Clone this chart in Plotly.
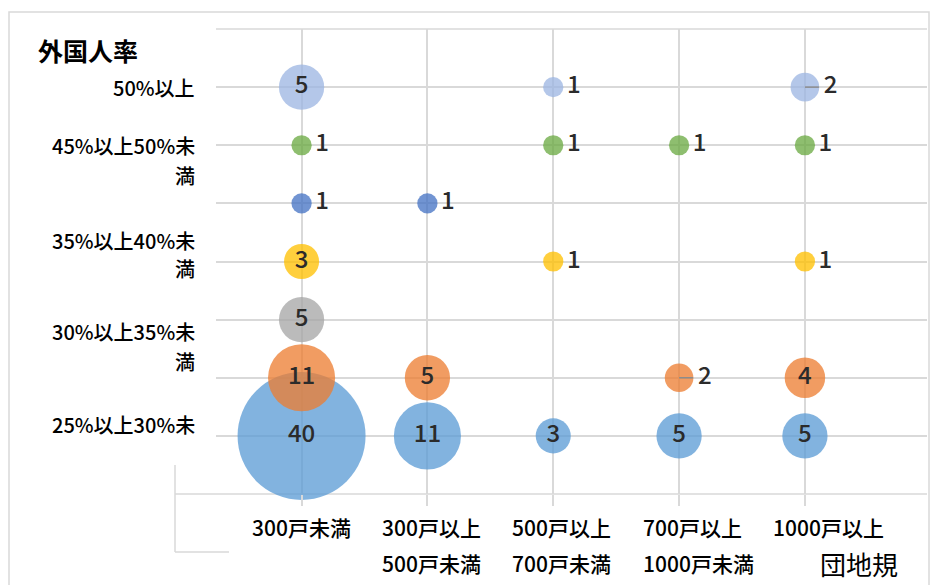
import math
import plotly.graph_objects as go

# 団地規模 (x categories) and 外国人率 rows (y levels, bottom = 1)
size_labels = [
    ["300戸未満"],
    ["300戸以上", "500戸未満"],
    ["500戸以上", "700戸未満"],
    ["700戸以上", "1000戸未満"],
    ["1000戸以上"],
]
x_pos = [1, 2, 3, 4, 5]

# y-axis text lines as they are drawn (text, level of the line)
rate_label_lines = [
    ("50%以上", 7.0),
    ("45%以上50%未", 6.0),
    ("満", 5.48),
    ("35%以上40%未", 4.36),
    ("満", 3.88),
    ("30%以上35%未", 2.8),
    ("満", 2.28),
    ("25%以上30%未", 1.2),
]

# counts per series (None = no bubble)
row1_blue = [40, 11, 3, 5, 5]
row2_orange = [11, 5, None, 2, 4]
row3_gray = [5, None, None, None, None]
row4_yellow = [3, None, 1, None, 1]
row5_darkblue = [1, 1, None, None, None]
row6_green = [1, None, 1, 1, 1]
row7_lightblue = [5, None, 1, None, 2]

series = [
    (1, row1_blue, "#5B9BD5"),
    (2, row2_orange, "#ED7D31"),
    (3, row3_gray, "#A5A5A5"),
    (4, row4_yellow, "#FFC000"),
    (5, row5_darkblue, "#4472C4"),
    (6, row6_green, "#6AAA42"),
    (7, row7_lightblue, "#9DB6E2"),
]

# plot-area geometry (pixels)
W_FIG, H_FIG = 930, 585
L, R, T, B = 216, 927, 29, 494
PW, PH = R - L, B - T
X_RANGE = [0.32, 5.97]
Y_RANGE = [0, 8]
MAX_DIAM = 128
max_val = max(v for _, vals, _ in series for v in vals if v is not None)
sizeref = 2.0 * max_val / (MAX_DIAM ** 2)


def px_x(px):
    return (px - L) / PW


def px_y(py):
    return (B - py) / PH


JP = "Noto Sans CJK JP"

fig = go.Figure()
for level, vals, color in series:
    xs, ys, ss, txt, tpos = [], [], [], [], []
    for xi, v in zip(x_pos, vals):
        if v is None:
            continue
        xs.append(xi)
        ys.append(level)
        ss.append(v)
        txt.append(str(v))
        tpos.append("middle center" if v >= 3 else "middle right")
    fig.add_trace(go.Scatter(
        x=xs, y=ys, mode="markers+text",
        marker=dict(size=ss, sizemode="area", sizeref=sizeref,
                    color=color, opacity=0.76, line=dict(width=0)),
        text=txt, textposition=tpos,
        textfont=dict(family=JP, size=24, color="#2B2B2B", weight=500),
        hoverinfo="skip", showlegend=False, cliponaxis=False,
    ))
    # leader lines for outside labels on bubbles above the minimum size
    units_per_px = (X_RANGE[1] - X_RANGE[0]) / PW
    for xi, v in zip(x_pos, vals):
        if v is not None and 1 < v < 3:
            fig.add_shape(type="line", xref="x", yref="y",
                          x0=xi, x1=xi + 14 * units_per_px, y0=level, y1=level,
                          line=dict(color="#8C8C8C", width=1.5), layer="above")

grid = "#D9D9D9"

# y-axis category text
for text, lvl in rate_label_lines:
    fig.add_annotation(x=px_x(197), xref="paper", y=lvl, yref="y",
                       text=text, showarrow=False, xanchor="right",
                       yanchor="middle",
                       font=dict(family=JP, size=20, color="#000000", weight=500))

# x-axis category text (two lines each)
for i, lines in enumerate(size_labels):
    left = 250 + 130.2 * i
    for j, line in enumerate(lines):
        fig.add_annotation(x=px_x(left), xref="paper", y=px_y(527 + 36 * j),
                           yref="paper", text=line, showarrow=False,
                           xanchor="left", yanchor="middle",
                           font=dict(family=JP, size=21, color="#000000", weight=500))

# axis titles
fig.add_annotation(x=px_x(36), xref="paper", y=px_y(50), yref="paper",
                   text="<b>外国人率</b>", showarrow=False, xanchor="left",
                   yanchor="middle", font=dict(family=JP, size=25, color="#000000"))
fig.add_annotation(x=px_x(818), xref="paper", y=px_y(563), yref="paper",
                   text="団地規", showarrow=False, xanchor="left",
                   yanchor="middle",
                   font=dict(family=JP, size=26, color="#000000"))

# outer frame, baseline and bracket lines
fig.add_shape(type="rect", xref="paper", yref="paper",
              x0=px_x(9), x1=px_x(929), y0=px_y(600), y1=px_y(12),
              line=dict(color="#D9D9D9", width=1.5), layer="below")
fig.add_shape(type="line", xref="paper", yref="paper",
              x0=px_x(175), x1=1, y0=0, y1=0,
              line=dict(color=grid, width=1.5), layer="below")
fig.add_shape(type="line", xref="paper", yref="paper",
              x0=px_x(175), x1=px_x(175), y0=px_y(465), y1=px_y(552),
              line=dict(color=grid, width=1.5), layer="below")
fig.add_shape(type="line", xref="paper", yref="paper",
              x0=px_x(175), x1=px_x(229), y0=px_y(552), y1=px_y(552),
              line=dict(color=grid, width=1.5), layer="below")
fig.add_shape(type="line", xref="paper", yref="paper",
              x0=0, x1=1, y0=1, y1=1,
              line=dict(color=grid, width=1.5), layer="below")

fig.update_xaxes(range=X_RANGE, tickvals=x_pos, showticklabels=False,
                 showgrid=True, gridcolor=grid, gridwidth=1.5,
                 ticks="outside", ticklen=11, tickcolor=grid, tickwidth=1.5,
                 zeroline=False, showline=False, fixedrange=True)
fig.update_yaxes(range=Y_RANGE, tickvals=list(range(1, 9)), showticklabels=False,
                 showgrid=True, gridcolor=grid, gridwidth=1.5,
                 ticks="", zeroline=False, showline=False, fixedrange=True)

fig.update_layout(
    width=W_FIG, height=H_FIG, autosize=False,
    margin=dict(l=L, r=W_FIG - R, t=T, b=H_FIG - B, pad=0),
    paper_bgcolor="#FFFFFF", plot_bgcolor="#FFFFFF",
    showlegend=False,
)

fig.write_html("out.html", config={"displayModeBar": False})
